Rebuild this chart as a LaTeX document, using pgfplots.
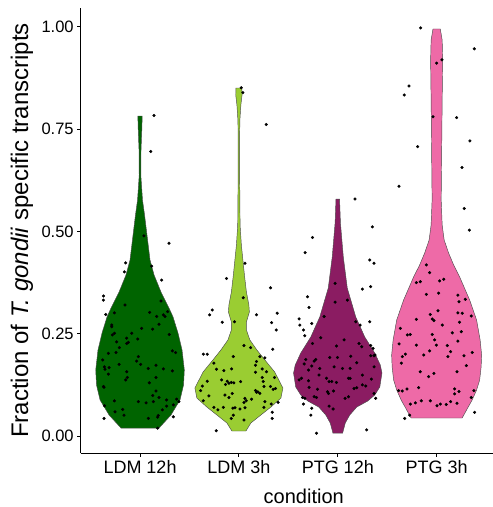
\documentclass[border=0pt]{standalone}
\usepackage{pgfplots}
\pgfplotsset{compat=1.18}
\usepackage{fontspec}
\setmainfont{Liberation Sans}

\definecolor{cA}{HTML}{006400}
\definecolor{cB}{HTML}{9ACD32}
\definecolor{cC}{HTML}{8B1C62}
\definecolor{cD}{HTML}{EE6AA7}

\begin{document}
\begin{tikzpicture}
\begin{axis}[
  scale only axis, width=412.3pt, height=445pt,
  xmin=0.4, xmax=4.57, ymin=-0.0415, ymax=1.0457,
  axis x line*=bottom, axis y line*=left,
  axis line style={-, black, line width=0.8pt},
  xtick={1,2,3,4}, xticklabels={LDM 12h, LDM 3h, PTG 12h, PTG 3h},
  ytick={0,0.25,0.5,0.75,1}, yticklabels={0.00,0.25,0.50,0.75,1.00},
  tick align=outside, major tick length=3.5pt,
  tick style={black, line width=0.8pt},
  xticklabel style={font=\fontsize{18}{20}\selectfont},
  yticklabel style={font=\fontsize{16.5}{18}\selectfont},
  ylabel={Fraction of \textit{T. gondii} specific transcripts},
  ylabel style={font=\fontsize{24}{28}\selectfont, at={(axis description cs:-0.1278,0.5)}, anchor=base},
  xlabel={condition},
  xlabel style={font=\fontsize{20}{24}\selectfont, at={(axis description cs:0.541,-0.1125)}, anchor=base},
  clip=false,
]
% violins
\addplot[fill=cA, draw=black!70, line width=0.45pt] coordinates {
(1.192,0.0195)(1.313,0.0513)(1.404,0.0880)(1.440,0.1246)(1.448,0.1613)(1.425,0.2101)(1.384,0.2517)(1.334,0.2907)(1.293,0.3127)(1.212,0.3518)(1.142,0.3934)(1.101,0.4300)(1.068,0.4960)(1.046,0.5399)(1.025,0.5766)(1.008,0.6377)(1.010,0.6988)(1.018,0.7476)(1.022,0.7818)
(0.978,0.7818)(0.982,0.7476)(0.990,0.6988)(0.992,0.6377)(0.975,0.5766)(0.954,0.5399)(0.932,0.4960)(0.899,0.4300)(0.858,0.3934)(0.788,0.3518)(0.707,0.3127)(0.666,0.2907)(0.616,0.2517)(0.575,0.2101)(0.552,0.1613)(0.560,0.1246)(0.596,0.0880)(0.687,0.0513)(0.808,0.0195)
} -- cycle;
\addplot[fill=cB, draw=black!70, line width=0.45pt] coordinates {
(2.071,0.0122)(2.121,0.0318)(2.222,0.0513)(2.324,0.0708)(2.425,0.0928)(2.445,0.1173)(2.362,0.1564)(2.263,0.1857)(2.182,0.2101)(2.111,0.2346)(2.076,0.2590)(2.076,0.2786)(2.106,0.3030)(2.101,0.3201)(2.076,0.3518)(2.056,0.3934)(2.025,0.4667)(2.012,0.5155)(2.008,0.6255)(2.007,0.7232)(2.010,0.7720)(2.020,0.8087)(2.032,0.8331)(2.030,0.8502)
(1.970,0.8502)(1.968,0.8331)(1.980,0.8087)(1.990,0.7720)(1.993,0.7232)(1.992,0.6255)(1.988,0.5155)(1.975,0.4667)(1.944,0.3934)(1.924,0.3518)(1.899,0.3201)(1.894,0.3030)(1.924,0.2786)(1.924,0.2590)(1.889,0.2346)(1.818,0.2101)(1.737,0.1857)(1.638,0.1564)(1.555,0.1173)(1.575,0.0928)(1.676,0.0708)(1.778,0.0513)(1.879,0.0318)(1.929,0.0122)
} -- cycle;
\addplot[fill=cC, draw=black!70, line width=0.45pt] coordinates {
(3.049,0.0073)(3.076,0.0318)(3.121,0.0513)(3.192,0.0708)(3.303,0.0855)(3.374,0.1002)(3.425,0.1197)(3.447,0.1539)(3.430,0.1735)(3.374,0.2028)(3.273,0.2419)(3.182,0.2907)(3.096,0.3616)(3.056,0.4373)(3.027,0.5204)(3.018,0.5790)
(2.982,0.5790)(2.973,0.5204)(2.944,0.4373)(2.904,0.3616)(2.818,0.2907)(2.727,0.2419)(2.626,0.2028)(2.570,0.1735)(2.553,0.1539)(2.575,0.1197)(2.626,0.1002)(2.697,0.0855)(2.808,0.0708)(2.879,0.0513)(2.924,0.0318)(2.951,0.0073)
} -- cycle;
\addplot[fill=cD, draw=black!70, line width=0.45pt] coordinates {
(4.258,0.0440)(4.319,0.0708)(4.359,0.0880)(4.404,0.1124)(4.435,0.1368)(4.450,0.1686)(4.455,0.1979)(4.440,0.2346)(4.404,0.2834)(4.334,0.3323)(4.233,0.3885)(4.172,0.4178)(4.121,0.4471)(4.076,0.4789)(4.056,0.5155)(4.046,0.5766)(4.051,0.6988)(4.056,0.8209)(4.061,0.9187)(4.056,0.9675)(4.037,0.9944)
(3.963,0.9944)(3.944,0.9675)(3.939,0.9187)(3.944,0.8209)(3.949,0.6988)(3.954,0.5766)(3.944,0.5155)(3.924,0.4789)(3.879,0.4471)(3.828,0.4178)(3.767,0.3885)(3.666,0.3323)(3.596,0.2834)(3.560,0.2346)(3.545,0.1979)(3.550,0.1686)(3.565,0.1368)(3.596,0.1124)(3.641,0.0880)(3.681,0.0708)(3.742,0.0440)
} -- cycle;
% jittered points
\addplot[only marks, mark=*, mark size=1.35pt, black] coordinates {
(1.040,0.489)(1.293,0.471)(0.855,0.423)(1.118,0.415)(0.842,0.401)(1.219,0.381)(0.630,0.342)(0.630,0.332)(0.848,0.320)(0.653,0.297)(0.741,0.301)(1.098,0.302)(1.212,0.330)(1.168,0.292)(1.236,0.296)(1.253,0.292)(1.279,0.304)(0.714,0.271)(0.714,0.267)(0.721,0.247)(0.741,0.251)(0.916,0.251)(1.017,0.263)(1.128,0.261)(1.192,0.273)(1.296,0.248)(0.976,0.237)(0.865,0.239)(0.865,0.226)(0.882,0.229)(0.764,0.230)(0.791,0.216)(0.680,0.202)(0.758,0.204)(1.327,0.208)(1.360,0.204)(0.983,0.194)(0.966,0.183)(0.623,0.186)(1.007,0.175)(1.162,0.173)(1.236,0.164)(1.327,0.159)(1.084,0.165)(0.640,0.169)(0.646,0.163)(0.687,0.167)(0.680,0.151)(0.788,0.175)(0.865,0.157)(0.872,0.143)(0.855,0.137)(1.094,0.130)(1.162,0.143)(0.630,0.121)(0.636,0.119)(1.162,0.110)(1.128,0.099)(1.192,0.094)(1.269,0.088)(1.370,0.090)(1.394,0.084)(1.337,0.076)(1.269,0.073)(1.226,0.064)(0.741,0.086)(0.983,0.084)(1.061,0.081)(1.135,0.084)(0.640,0.074)(0.825,0.065)(0.747,0.059)(0.838,0.051)(1.185,0.050)(1.178,0.046)(1.084,0.043)(1.337,0.047)(0.636,0.043)(1.178,0.019)(1.142,0.783)(1.108,0.695)
};
\addplot[only marks, mark=*, mark size=1.35pt, black] coordinates {
(2.061,0.422)(1.875,0.385)(2.320,0.362)(2.044,0.338)(1.731,0.308)(1.704,0.296)(2.178,0.296)(2.387,0.300)(1.832,0.278)(1.956,0.279)(2.330,0.277)(2.377,0.259)(2.051,0.221)(2.118,0.216)(2.343,0.212)(1.640,0.200)(1.680,0.200)(1.943,0.194)(2.212,0.194)(2.263,0.191)(1.747,0.178)(2.178,0.182)(2.168,0.173)(1.774,0.163)(1.848,0.160)(1.926,0.164)(2.236,0.164)(2.279,0.157)(2.168,0.156)(1.680,0.134)(1.825,0.137)(1.882,0.134)(1.899,0.129)(1.923,0.131)(1.949,0.130)(2.017,0.133)(2.236,0.143)(2.246,0.133)(2.360,0.143)(1.630,0.122)(1.613,0.111)(1.865,0.126)(2.253,0.121)(2.320,0.121)(2.370,0.116)(2.347,0.114)(2.168,0.111)(2.192,0.108)(2.212,0.104)(2.178,0.107)(1.697,0.098)(1.859,0.100)(1.899,0.094)(1.933,0.104)(2.061,0.092)(2.074,0.086)(2.051,0.082)(2.128,0.090)(2.263,0.084)(2.327,0.078)(2.397,0.082)(1.640,0.086)(1.747,0.070)(1.788,0.064)(1.842,0.070)(1.939,0.068)(1.960,0.069)(2.010,0.066)(2.061,0.069)(2.253,0.070)(1.943,0.051)(1.923,0.043)(2.051,0.039)(2.337,0.058)(2.337,0.043)(1.771,0.013)(2.024,0.851)(2.040,0.839)(2.277,0.761)
};
\addplot[only marks, mark=*, mark size=1.35pt, black] coordinates {
(3.175,0.579)(3.350,0.511)(2.744,0.485)(2.670,0.448)(3.323,0.430)(3.367,0.422)(3.249,0.359)(3.333,0.365)(2.973,0.373)(3.098,0.332)(2.973,0.327)(2.694,0.340)(2.710,0.314)(2.862,0.292)(2.609,0.286)(2.616,0.271)(2.653,0.259)(2.667,0.245)(2.737,0.275)(3.323,0.279)(3.182,0.279)(3.226,0.271)(2.828,0.240)(2.744,0.226)(3.064,0.235)(2.987,0.220)(3.215,0.226)(3.242,0.218)(3.333,0.221)(3.357,0.214)(3.131,0.195)(2.919,0.192)(2.997,0.192)(3.333,0.196)(3.367,0.196)(3.377,0.198)(2.677,0.187)(2.778,0.187)(2.761,0.183)(2.660,0.176)(2.737,0.171)(2.704,0.161)(2.818,0.165)(2.963,0.169)(3.047,0.165)(3.125,0.165)(3.192,0.179)(3.367,0.169)(2.609,0.137)(2.633,0.141)(2.704,0.135)(2.811,0.149)(2.886,0.141)(2.912,0.133)(2.939,0.133)(2.987,0.131)(3.108,0.141)(3.125,0.141)(3.249,0.149)(3.340,0.139)(2.710,0.119)(2.795,0.114)(2.896,0.108)(2.906,0.104)(2.956,0.110)(3.165,0.116)(3.192,0.118)(3.249,0.125)(3.283,0.122)(2.643,0.094)(2.667,0.092)(2.761,0.096)(2.785,0.094)(3.074,0.092)(3.108,0.096)(3.367,0.104)(3.384,0.092)(2.653,0.078)(2.737,0.068)(2.912,0.073)(2.953,0.066)(2.727,0.051)(2.785,0.007)(3.293,0.015)
};
\addplot[only marks, mark=*, mark size=1.35pt, black] coordinates {
(3.838,0.997)(4.381,0.946)(4.000,0.911)(4.054,0.919)(3.720,0.855)(3.672,0.833)(3.963,0.780)(4.202,0.778)(4.337,0.721)(3.808,0.707)(4.256,0.656)(3.619,0.610)(4.279,0.556)(4.330,0.503)
(3.896,0.418)(3.929,0.399)(3.795,0.375)(3.835,0.377)(4.030,0.379)(4.071,0.383)(3.896,0.346)(4.020,0.349)(4.215,0.344)(4.290,0.334)(4.226,0.328)(4.013,0.306)(3.936,0.297)(3.956,0.286)(3.973,0.282)(4.215,0.301)(4.259,0.300)(4.350,0.293)(3.795,0.285)(4.057,0.271)(4.232,0.278)(3.633,0.263)(3.704,0.247)(3.734,0.248)(3.956,0.248)(4.158,0.252)(4.249,0.255)(3.980,0.235)(3.620,0.225)(3.795,0.222)(3.997,0.222)(4.108,0.221)(4.215,0.232)(3.929,0.208)(4.141,0.206)(3.653,0.194)(3.684,0.200)(3.869,0.198)(4.114,0.194)(4.276,0.196)(4.360,0.204)(3.643,0.178)(4.300,0.172)(3.835,0.157)(3.919,0.145)(3.973,0.153)(4.205,0.157)(3.616,0.111)(3.653,0.110)(3.700,0.115)(3.818,0.118)(4.182,0.115)(4.226,0.109)(4.182,0.103)(4.377,0.111)(4.350,0.094)(3.734,0.078)(3.785,0.081)(3.845,0.086)(3.936,0.086)(4.003,0.074)(4.037,0.078)(4.098,0.077)(4.141,0.084)(4.205,0.080)(4.384,0.058)(3.677,0.043)(3.727,0.051)
};
\end{axis}
\pgfresetboundingbox
\useasboundingbox (-80.7pt,-54pt) rectangle (412.3pt,453pt);
\end{tikzpicture}
\end{document}
